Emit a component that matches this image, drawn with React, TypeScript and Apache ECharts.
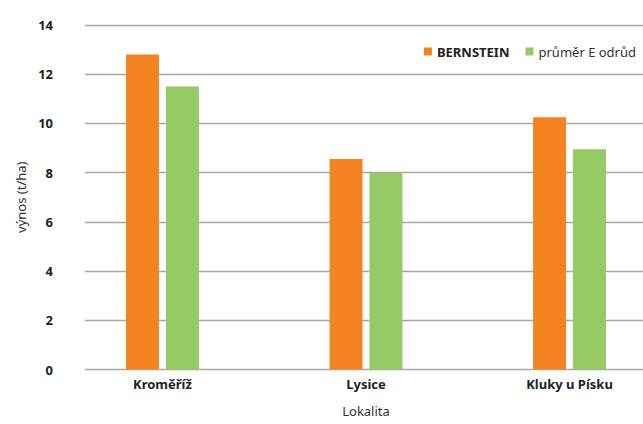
import React, { useEffect, useRef } from "react";
import * as echarts from "echarts";

const categories = ["Kroměříž", "Lysice", "Kluky u Písku"];
const bernstein = [12.8, 8.55, 10.25];
const prumer = [11.5, 8.0, 8.95];
const seriesNames = ["BERNSTEIN", "průměr E odrůd"];
const yMin = 0;
const yMax = 14;
const yStep = 2;

const FONT = "'Noto Sans', sans-serif";

export default function App() {
  const ref = useRef<HTMLDivElement>(null);
  useEffect(() => {
    document.body.style.margin = "0";
    if (!ref.current) return;
    const chart = echarts.init(ref.current, undefined, { renderer: "svg" });
    const toPairs = (arr: number[]) => arr.map((v, i) => [i, v]);
    chart.setOption({
      animation: false,
      backgroundColor: "#ffffff",
      textStyle: { fontFamily: FONT },
      legend: {
        top: 40,
        right: 2,
        itemWidth: 8,
        itemHeight: 8,
        itemGap: 16,
        itemStyle: { borderWidth: 0 },
        icon: "rect",
        data: [
          { name: seriesNames[0], textStyle: { fontWeight: "bold", color: "#222" } },
          { name: seriesNames[1], textStyle: { color: "#333" } },
        ],
        textStyle: { fontSize: 13, fontFamily: FONT },
      },
      grid: [
        { left: 85, right: 0, top: 25, bottom: 54.5 },
        { left: 111.6, right: 22.6, top: 25, bottom: 54.5 },
      ],
      xAxis: [
        {
          gridIndex: 0,
          type: "category",
          data: categories,
          show: false,
        },
        {
          gridIndex: 1,
          type: "value",
          min: -0.25,
          max: 2.25,
          interval: 0.25,
          splitLine: { show: false },
          axisLine: { show: false },
          axisTick: { show: false },
          axisLabel: {
            fontWeight: "bold",
            fontSize: 13,
            color: "#222",
            margin: 8,
            fontFamily: FONT,
            showMinLabel: true,
            showMaxLabel: true,
            formatter: (v: number) => {
              const r = Math.round(v);
              return Math.abs(v - r) < 1e-6 && categories[r] ? categories[r] : "";
            },
          },
          name: "Lokalita",
          nameLocation: "middle",
          nameGap: 35,
          nameTextStyle: { fontSize: 13, color: "#333", fontFamily: FONT },
        },
      ],
      yAxis: [
        {
          gridIndex: 0,
          type: "value",
          min: yMin,
          max: yMax,
          interval: yStep,
          axisLine: { show: false },
          axisTick: { show: false },
          axisLabel: {
            fontWeight: "bold",
            fontSize: 13,
            color: "#222",
            margin: 32,
            fontFamily: FONT,
          },
          splitLine: { lineStyle: { color: "#a8a8a8", width: 1.3 } },
          name: "výnos (t/ha)",
          nameLocation: "middle",
          nameGap: 58,
          nameRotate: 90,
          nameTextStyle: { fontSize: 13, color: "#333", fontFamily: FONT },
        },
        {
          gridIndex: 1,
          type: "value",
          min: yMin,
          max: yMax,
          interval: yStep,
          show: false,
          splitLine: { show: false },
        },
      ],
      series: [
        {
          name: seriesNames[0],
          type: "bar",
          xAxisIndex: 1,
          yAxisIndex: 1,
          data: toPairs(bernstein),
          barWidth: 33,
          barGap: "21%",
          itemStyle: { color: "#F48422" },
        },
        {
          name: seriesNames[1],
          type: "bar",
          xAxisIndex: 1,
          yAxisIndex: 1,
          data: toPairs(prumer),
          barWidth: 33,
          barGap: "21%",
          itemStyle: { color: "#96CA64" },
        },
      ],
    });
    return () => chart.dispose();
  }, []);
  return <div ref={ref} style={{ width: 643, height: 424 }} />;
}
